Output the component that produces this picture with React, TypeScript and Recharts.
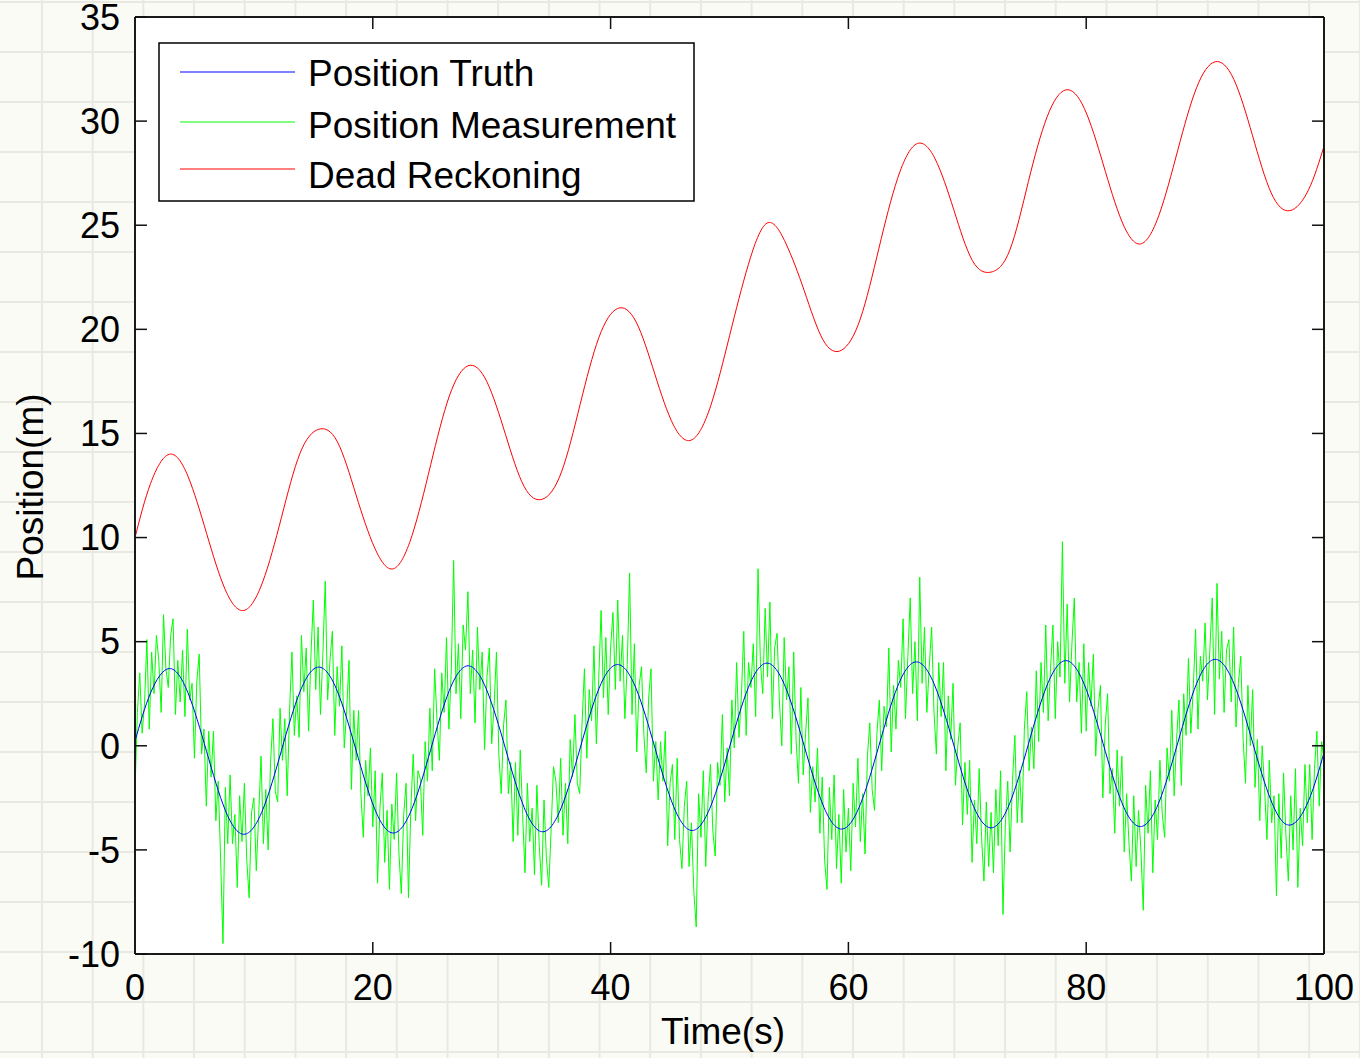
import React from 'react';
import { LineChart, Line, XAxis, YAxis, CartesianGrid, Legend } from 'recharts';

const FONT = '"Liberation Sans", Arial, Helvetica, sans-serif';

// x ticks / y ticks
const xTicks = [0, 20, 40, 60, 80, 100];
const yTicks = [-10, -5, 0, 5, 10, 15, 20, 25, 30, 35];

const seriesNames = ['Position Truth', 'Position Measurement', 'Dead Reckoning'];
const seriesColors = ['#0000ff', '#00ff00', '#ff0000'];

// Sample times for the smooth curves (s)
const modelTimes = [
  0, 1.31, 2.88, 4.45, 6.02, 7.59, 9.16, 10.74, 12.31, 13.88, 15.45, 17.02, 18.59, 20.16, 21.73, 23.3,
  24.87, 26.44, 28.01, 29.58, 31.16, 32.73, 34.3, 35.87, 37.44, 39.01, 40.58, 42.15, 43.72, 45.29, 46.86,
  48.43, 50.01, 51.58, 53.15, 54.72, 56.29, 57.86, 59.43, 61.0, 62.57, 64.14, 65.71, 67.28, 68.86, 70.43,
  72.0, 73.57, 75.14, 76.71, 78.28, 79.85, 81.42, 82.99, 84.56, 86.13, 87.7, 89.28, 90.85, 92.42, 93.99,
  95.56, 97.13, 98.7, 100,
];

// Position Truth (m)
const truthValues = [
  0.22,
  2.54, 3.71, 2.55, -0.27, -3.09, -4.25, -3.08, -0.24,
  2.6, 3.78, 2.62, -0.21, -3.03, -4.19, -3.01, -0.18,
  2.66, 3.84, 2.68, -0.14, -2.97, -4.13, -2.95, -0.11,
  2.73, 3.9, 2.74, -0.08, -2.9, -4.07, -2.89, -0.05,
  2.79, 3.97, 2.8, -0.02, -2.84, -4.0, -2.82, 0.01,
  2.85, 4.03, 2.87, 0.04, -2.78, -3.94, -2.76, 0.08,
  2.91, 4.09, 2.93, 0.11, -2.72, -3.88, -2.7, 0.14,
  2.98, 4.15, 2.99, 0.17, -2.65, -3.81, -2.64,
  -0.33,
];

// Dead Reckoning (m)
const deadReckoningValues = [
  10.0,
  12.6, 14.0, 12.95, 10.2, 7.5, 6.5, 7.87, 10.95,
  14.05, 15.2, 14.6, 12.05, 9.5, 8.5, 10.1, 13.5,
  16.8, 18.25, 17.5, 14.95, 12.45, 11.85, 13.15, 16.4,
  19.6, 21.0, 20.35, 17.85, 15.4, 14.7, 16.35, 19.7,
  23.1, 25.1, 24.15, 21.85, 19.5, 19.0, 20.5, 23.9,
  27.25, 28.9, 28.2, 25.75, 23.3, 22.75, 23.8, 27.1,
  30.2, 31.5, 30.6, 27.95, 25.2, 24.1, 25.5, 28.6,
  31.6, 32.85, 32.0, 29.3, 26.55, 25.7, 26.7,
  28.8,
];

// Position Measurement (m), one sample every 0.2 s from 0 to 100 s
const measurementStep = 0.2;
const measurementValues = [
  -2.2, 1.6, 3.5, 0.6, 2.0, 5.1, 0.8, 4.5, 2.5, 5.3, 4.1, 1.6, 6.3, 3.7, 2.8, 5.3, 6.1, 1.5, 4.1, 2.1,
  4.6, 1.4, 5.6, 2.2, 3.0, -0.6, 3.1, 4.4, -0.4, 0.8, -2.9, 0.7, -1.5, 0.7, -3.6, -1.7, -5.4, -9.5, -2.0, -4.7,
  -1.4, -4.7, -3.3, -6.8, -2.4, -4.6, -1.8, -5.5, -7.3, -3.2, -2.5, -6.0, -3.4, -0.5, -4.7, -2.1, -5.0, -0.8, 1.3, -2.2,
  -2.7, 1.8, -0.7, 1.3, -2.4, 1.7, 4.5, 0.5, 2.4, 0.4, 5.3, 2.6, 4.7, 0.7, 4.4, 7.0, 2.7, 5.7, 1.5, 4.4,
  7.9, 2.2, 4.1, 5.5, 0.5, 3.8, 1.9, 4.8, -0.1, 1.7, 4.1, -2.1, 1.7, -0.7, 1.7, -2.3, -4.4, -0.7, -2.4, -0.1,
  -3.9, -1.2, -6.6, -3.0, -1.3, -5.6, -3.1, -6.9, -2.8, -4.5, -1.3, -5.2, -7.1, -3.3, -1.8, -7.3, -3.0, -0.4, -3.6, -1.2,
  -1.6, -4.3, 0.2, -1.7, 1.8, -1.2, 3.7, 1.2, -0.7, 3.5, 1.6, 5.2, 0.8, 3.6, 8.9, 2.5, 4.9, 1.3, 5.8, 4.6,
  7.4, 2.5, 4.6, 1.1, 5.7, 2.7, 4.5, -0.2, 3.3, 4.7, 0.1, 1.9, 4.5, -0.4, -2.3, 1.0, 2.2, -2.3, -0.8, -4.6,
  -0.8, -4.3, -0.2, -3.3, -6.1, -1.8, -4.6, -3.0, -6.2, -1.9, -4.8, -6.7, -2.6, -5.4, -6.8, -4.0, -1.0, -1.7, -3.7, -0.6,
  -4.3, -1.8, -4.7, 0.3, -1.5, 1.5, -1.8, -2.3, 1.1, 3.7, -0.6, 2.7, 1.2, 4.8, 0.1, 3.2, 6.5, 2.3, 5.2, 1.5,
  4.7, 6.4, 2.7, 7.0, 3.1, 5.3, 1.3, 3.9, 8.3, 1.5, 4.9, -0.3, 2.9, 3.8, 0.5, -1.3, 2.3, 3.7, -1.7, 0.2,
  -2.6, 0.2, -1.7, 0.7, -4.8, -1.8, -0.9, -4.5, -0.6, -4.5, -5.9, -2.9, -1.7, -5.8, -3.7, -7.0, -8.7, -2.3, -4.4, -1.2,
  -5.8, -2.6, -0.9, -4.1, -5.3, -0.8, -1.9, 1.5, -2.7, -0.1, -2.4, 2.2, -0.1, 4.0, 0.4, 2.4, 5.5, 0.5, 4.0, 2.8,
  4.9, 1.4, 8.5, 4.0, 2.5, 6.6, 3.3, 6.9, 1.3, 4.7, 5.4, 2.1, 0.0, 5.2, 2.2, 3.8, -0.4, 4.5, 0.3, -1.8,
  2.8, -1.4, 0.6, 2.3, -3.2, -1.0, -2.7, -0.1, -4.2, -1.5, -5.5, -6.9, -2.0, -4.5, -1.4, -5.9, -3.3, -6.6, -2.1, -5.1,
  -3.0, -6.0, -1.8, -3.9, -0.6, -4.6, -2.3, -5.2, -0.5, 1.1, -2.1, -3.1, 0.6, 2.2, -1.2, 1.9, 0.9, 4.7, -0.3, 2.9,
  0.8, 4.1, 2.8, 6.1, 1.3, 4.3, 7.1, 2.5, 5.0, 1.2, 8.1, 3.0, 5.7, 1.6, 3.8, 5.7, 1.6, -0.4, 4.0, 1.4,
  4.0, -1.2, 2.4, 0.3, 3.0, -1.9, 0.0, 1.1, -3.8, -0.8, -3.3, -0.7, -5.6, -2.6, -4.7, -1.1, -4.4, -6.5, -2.7, -5.8,
  -3.2, -6.1, -2.1, -4.8, -1.2, -8.1, -3.8, -1.7, -5.1, -1.7, 0.5, -3.7, -1.2, -3.7, 0.8, 2.6, -1.2, 0.9, -1.1, 3.6,
  0.2, 4.0, 1.6, 5.8, 1.2, 3.7, 5.8, 1.3, 5.0, 3.3, 9.8, 3.0, 6.8, 2.1, 4.9, 7.1, 2.1, 4.0, 0.6, 4.9,
  0.7, 4.0, 1.9, 4.4, -0.5, 1.8, 2.9, -2.5, 1.0, 2.5, -2.3, -1.1, -4.2, -0.2, -2.9, -0.5, -5.1, -2.3, -4.7, -6.5,
  -2.4, -5.8, -3.1, -5.0, -7.9, -1.9, -4.2, -1.2, -6.1, -2.6, -4.5, -0.7, -3.3, -4.4, -0.1, -1.7, 1.7, -2.4, 0.3, 2.2,
  -1.9, 2.5, 0.5, 4.2, 0.6, 2.7, 5.6, 0.8, 4.3, 3.1, 5.9, 2.2, 4.6, 7.1, 1.5, 7.8, 3.2, 5.5, 1.6, 4.6,
  5.1, 2.1, 5.7, 0.9, 3.0, 4.3, 0.3, -1.8, 2.9, 0.0, 2.7, -2.0, 0.3, -3.6, 0.0, -2.0, -4.5, -0.7, -3.7, -2.4,
  -7.2, -2.3, -5.4, -1.3, -4.3, -6.5, -2.4, -5.0, -1.1, -6.8, -3.0, -4.8, -0.9, -3.7, -0.9, -4.5, -1.1, 0.7, -2.9, 0.2, -0.7,
];

const measurementData = measurementValues.map((v, i) => ({
  t: Math.round(i * measurementStep * 100) / 100,
  pos: v,
}));
const truthData = modelTimes.map((t, i) => ({ t, pos: truthValues[i] }));
const deadReckoningData = modelTimes.map((t, i) => ({ t, pos: deadReckoningValues[i] }));

const tickStyle = { fill: '#000', fontSize: 36, fontFamily: FONT };
const axisLineStyle = { stroke: '#1a1a1a', strokeWidth: 2 };
const tickLineStyle = { stroke: '#111', strokeWidth: 1.5 };

function LegendBox() {
  const lineY = [30, 80, 127];
  const textY = [44, 96, 146];
  return (
    <svg width={537} height={160} style={{ display: 'block' }}>
      <rect x={1} y={1} width={535} height={158} fill="#ffffff" stroke="#000" strokeWidth={1.5} />
      {seriesNames.map((name, i) => (
        <g key={name}>
          <line x1={22} x2={137} y1={lineY[i]} y2={lineY[i]} stroke={seriesColors[i]} strokeWidth={1} />
          <text x={150} y={textY[i]} fontSize={37} fontFamily={FONT} fill="#000">
            {name}
          </text>
        </g>
      ))}
    </svg>
  );
}

const YAxisTitle = () => (
  <text
    x={43}
    y={487}
    transform="rotate(-90 43 487)"
    textAnchor="middle"
    fontSize={37}
    fontFamily={FONT}
    fill="#000"
  >
    Position(m)
  </text>
);

const XAxisTitle = () => (
  <text x={723} y={1044} textAnchor="middle" fontSize={37} fontFamily={FONT} fill="#000">
    Time(s)
  </text>
);

export default function App() {
  return (
    <div
      style={{
        position: 'absolute',
        left: 0,
        top: 0,
        width: 1360,
        height: 1058,
        backgroundColor: '#fbfbf6',
        backgroundImage:
          'linear-gradient(to right, #e9e9e1 2px, transparent 2px), linear-gradient(to bottom, #e9e9e1 2px, transparent 2px)',
        backgroundSize: '50.7px 50px',
        backgroundPosition: '41px 1px',
      }}
    >
      <LineChart width={1360} height={1058} margin={{ top: 16, right: 35, bottom: 0, left: 0 }}>
        <CartesianGrid xAxisId="b" yAxisId="l" fill="#ffffff" stroke="none" horizontal={false} vertical={false} />
        <XAxis
          xAxisId="b"
          type="number"
          dataKey="t"
          orientation="bottom"
          domain={[0, 100]}
          ticks={xTicks}
          interval={0}
          allowDataOverflow
          height={104}
          tickSize={-12}
          tickMargin={32}
          axisLine={axisLineStyle}
          tickLine={tickLineStyle}
          tick={tickStyle}
          label={<XAxisTitle />}
        />
        <XAxis
          xAxisId="t"
          type="number"
          dataKey="t"
          orientation="top"
          domain={[0, 100]}
          ticks={xTicks}
          interval={0}
          allowDataOverflow
          height={1}
          tickSize={-12}
          tickFormatter={() => ''}
          axisLine={axisLineStyle}
          tickLine={tickLineStyle}
        />
        <YAxis
          yAxisId="l"
          type="number"
          orientation="left"
          domain={[-10, 35]}
          ticks={yTicks}
          interval={0}
          allowDataOverflow
          width={135}
          tickSize={-12}
          tickMargin={27}
          axisLine={axisLineStyle}
          tickLine={tickLineStyle}
          tick={tickStyle}
          label={<YAxisTitle />}
        />
        <YAxis
          yAxisId="r"
          type="number"
          orientation="right"
          domain={[-10, 35]}
          ticks={yTicks}
          interval={0}
          allowDataOverflow
          width={1}
          tickSize={-12}
          tickFormatter={() => ''}
          axisLine={axisLineStyle}
          tickLine={tickLineStyle}
        />
        <Line
          xAxisId="b"
          yAxisId="l"
          data={measurementData}
          dataKey="pos"
          name={seriesNames[1]}
          type="linear"
          stroke={seriesColors[1]}
          strokeWidth={1}
          dot={false}
          isAnimationActive={false}
        />
        <Line
          xAxisId="b"
          yAxisId="l"
          data={truthData}
          dataKey="pos"
          name={seriesNames[0]}
          type="natural"
          stroke={seriesColors[0]}
          strokeWidth={1}
          dot={false}
          isAnimationActive={false}
        />
        <Line
          xAxisId="t"
          yAxisId="r"
          data={deadReckoningData}
          dataKey="pos"
          name={seriesNames[2]}
          type="natural"
          stroke={seriesColors[2]}
          strokeWidth={1}
          dot={false}
          isAnimationActive={false}
        />
        <Legend
          layout="vertical"
          align="center"
          verticalAlign="middle"
          wrapperStyle={{ left: 158, top: 42, width: 537, height: 160 }}
          content={() => <LegendBox />}
        />
      </LineChart>
    </div>
  );
}
